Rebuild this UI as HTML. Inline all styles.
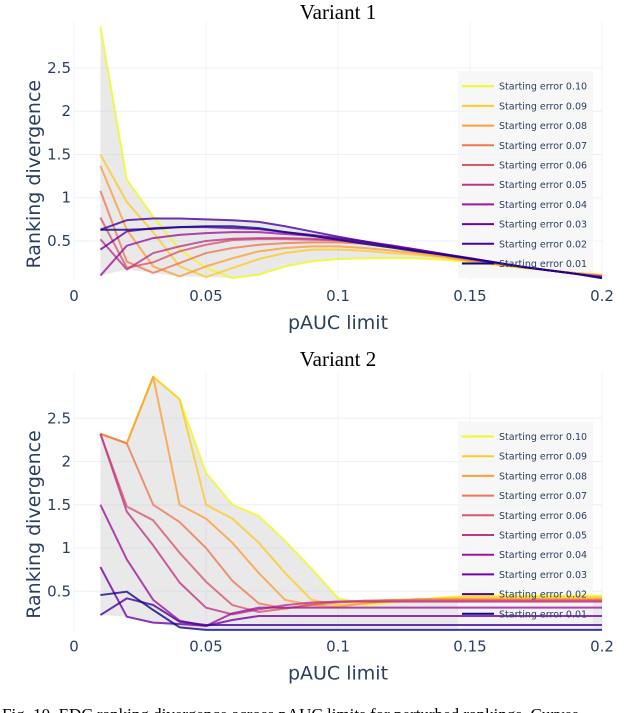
<!DOCTYPE html>
<html><head><meta charset="utf-8"><style>
body{margin:0;background:#fff;width:640px;height:713px;overflow:hidden;position:relative}
svg{position:absolute;left:0;top:0}
</style></head><body>
<svg id="chart" width="640" height="713"></svg>
<script>
const xs=[0.01,0.02,0.03,0.04,0.05,0.06,0.07,0.08,0.09,0.10,0.11,0.12,0.13,0.14,0.15,0.16,0.17,0.18,0.19,0.20];
const seriesLabels=["Starting error 0.10","Starting error 0.09","Starting error 0.08","Starting error 0.07","Starting error 0.06","Starting error 0.05","Starting error 0.04","Starting error 0.03","Starting error 0.02","Starting error 0.01"];
const xTicks=[0,0.05,0.1,0.15,0.2];
const xTickLabels=["0","0.05","0.1","0.15","0.2"];
const yTicks=[0.5,1,1.5,2,2.5];
const yTickLabels=["0.5","1","1.5","2","2.5"];
const v1_010=[2.98,1.21,0.78,0.4,0.19,0.071,0.11,0.206,0.264,0.29,0.299,0.303,0.299,0.283,0.253,0.22,0.19,0.16,0.13,0.11];
const v1_009=[1.5,0.95,0.6,0.206,0.083,0.187,0.291,0.36,0.4,0.4,0.387,0.36,0.341,0.31,0.264,0.23,0.19,0.16,0.13,0.10];
const v1_008=[1.37,0.63,0.206,0.09,0.206,0.299,0.38,0.418,0.437,0.437,0.418,0.39,0.36,0.32,0.27,0.23,0.19,0.16,0.13,0.10];
const v1_007=[1.08,0.26,0.13,0.245,0.36,0.418,0.456,0.475,0.483,0.483,0.468,0.425,0.379,0.333,0.283,0.24,0.2,0.16,0.12,0.09];
const v1_006=[0.77,0.19,0.253,0.38,0.456,0.51,0.521,0.521,0.514,0.506,0.475,0.437,0.39,0.341,0.291,0.24,0.2,0.16,0.12,0.09];
const v1_005=[0.52,0.17,0.36,0.437,0.5,0.525,0.533,0.533,0.525,0.51,0.48,0.44,0.39,0.345,0.29,0.24,0.2,0.16,0.12,0.09];
const v1_004=[0.1,0.445,0.533,0.57,0.59,0.602,0.602,0.58,0.56,0.525,0.487,0.445,0.4,0.349,0.299,0.25,0.2,0.16,0.12,0.08];
const v1_003=[0.4,0.61,0.648,0.66,0.66,0.648,0.637,0.602,0.57,0.533,0.495,0.45,0.4,0.35,0.3,0.25,0.2,0.16,0.12,0.08];
const v1_002=[0.63,0.74,0.76,0.76,0.75,0.74,0.72,0.67,0.61,0.55,0.495,0.437,0.39,0.341,0.3,0.25,0.2,0.16,0.12,0.07];
const v1_001=[0.63,0.63,0.64,0.66,0.67,0.67,0.648,0.602,0.56,0.514,0.468,0.425,0.379,0.341,0.295,0.25,0.2,0.16,0.12,0.07];
const v2_010=[2.32,2.21,2.98,2.72,1.87,1.5,1.37,1.08,0.76,0.42,0.34,0.37,0.4,0.43,0.445,0.45,0.45,0.45,0.45,0.45];
const v2_009=[2.32,2.21,2.98,2.72,1.5,1.34,1.06,0.71,0.4,0.34,0.36,0.38,0.4,0.42,0.43,0.43,0.43,0.43,0.43,0.43];
const v2_008=[2.32,2.21,2.98,1.5,1.34,1.06,0.71,0.4,0.34,0.32,0.36,0.39,0.41,0.41,0.41,0.41,0.41,0.41,0.41,0.41];
const v2_007=[2.32,2.21,1.5,1.3,1.0,0.62,0.36,0.3,0.34,0.37,0.39,0.4,0.4,0.4,0.4,0.4,0.4,0.4,0.4,0.4];
const v2_006=[2.32,1.48,1.32,0.945,0.61,0.34,0.26,0.3,0.35,0.38,0.39,0.39,0.39,0.39,0.39,0.39,0.39,0.39,0.39,0.39];
const v2_005=[2.32,1.42,1.03,0.6,0.31,0.233,0.29,0.34,0.37,0.38,0.38,0.38,0.38,0.38,0.38,0.38,0.38,0.38,0.38,0.38];
const v2_004=[1.5,0.868,0.4,0.16,0.1,0.245,0.31,0.31,0.31,0.31,0.31,0.31,0.31,0.31,0.31,0.31,0.31,0.31,0.31,0.31];
const v2_003=[0.78,0.206,0.137,0.122,0.1,0.168,0.214,0.214,0.214,0.214,0.214,0.214,0.214,0.214,0.214,0.214,0.214,0.214,0.214,0.214];
const v2_002=[0.225,0.418,0.341,0.148,0.11,0.11,0.11,0.11,0.11,0.11,0.11,0.11,0.11,0.11,0.11,0.11,0.11,0.11,0.11,0.11];
const v2_001=[0.456,0.495,0.283,0.083,0.053,0.053,0.053,0.053,0.053,0.053,0.053,0.053,0.053,0.053,0.053,0.053,0.053,0.053,0.053,0.053];

const colors=["#f0f921","#fdca26","#fb9f3a","#ed7953","#d8576b","#bd3786","#9c179e","#7201a8","#46039f","#0d0887"];
const NS="http://www.w3.org/2000/svg";
const svg=document.getElementById('chart');
function mk(t,a,p){const e=document.createElementNS(NS,t);for(const k in a)e.setAttribute(k,a[k]);(p||svg).appendChild(e);return e;}
const X=v=>74+v*2640;

function panel(name,title,titleY,y0,series){
  const Y=v=>y0-v*86.5;
  const g=mk('g',{});
  
  
  const t=mk('text',{x:338,y:titleY,'text-anchor':'middle','font-family':'Liberation Serif, serif','font-size':21,fill:'#000'},g);
  t.textContent=title;
  
  
  xTicks.forEach((v,i)=>{
    const l=mk('line',{x1:X(v),x2:X(v),y1:y0-262,y2:y0-4,stroke:'#ebf0f8','stroke-width':1},g);
    
    
    const tx=mk('text',{x:X(v),y:y0+17,'text-anchor':'middle','font-family':'DejaVu Sans, sans-serif','font-size':15,fill:'#2a3f5f'},g);
    tx.textContent=xTickLabels[i];
    
    
  });
  yTicks.forEach((v,i)=>{
    const l=mk('line',{x1:74,x2:602,y1:Y(v),y2:Y(v),stroke:'#ebf0f8','stroke-width':1},g);
    
    
    const tx=mk('text',{x:71,y:Y(v)+5,'text-anchor':'end','font-family':'DejaVu Sans, sans-serif','font-size':15,fill:'#2a3f5f'},g);
    tx.textContent=yTickLabels[i];
    
    
  });
  const yt=mk('text',{x:0,y:0,'text-anchor':'middle','font-family':'DejaVu Sans, sans-serif','font-size':19,fill:'#2a3f5f',transform:`translate(40,${y0-110}) rotate(-90)`},g);
  yt.textContent='Ranking divergence';
  
  
  const xt=mk('text',{x:338,y:y0+45,'text-anchor':'middle','font-family':'DejaVu Sans, sans-serif','font-size':19,fill:'#2a3f5f'},g);
  xt.textContent='pAUC limit';
  
  
  const hi=xs.map((x,i)=>Math.max(...series.map(s=>s[i])));
  const lo=xs.map((x,i)=>Math.min(...series.map(s=>s[i])));
  let d=xs.map((x,i)=>(i?'L':'M')+X(x)+','+Y(hi[i])).join('');
  for(let i=xs.length-1;i>=0;i--)d+='L'+X(xs[i])+','+Y(lo[i]);
  const env=mk('path',{d:d+'Z',fill:'rgba(200,200,200,0.4)',stroke:'none'},g);
  
  
  const lb=mk('rect',{x:458,y:y0-213,width:135,height:207,fill:'rgba(245,245,245,0.8)'},g);
  
  
  series.forEach((s,k)=>{
    const p=mk('polyline',{points:xs.map((x,i)=>X(x)+','+Y(s[i])).join(' '),fill:'none',stroke:colors[k],'stroke-width':2,'stroke-opacity':0.8,'stroke-linejoin':'round'},g);
    
    
  });
  seriesLabels.forEach((lab,k)=>{
    const ly=y0-198+k*19.7;
    const l=mk('line',{x1:462,x2:494,y1:ly,y2:ly,stroke:colors[k],'stroke-width':2},g);
    
    
    const tx=mk('text',{x:499,y:ly+3.5,'font-family':'DejaVu Sans, sans-serif','font-size':9.5,fill:'#2a3f5f'},g);
    tx.textContent=lab;
    
    
  });
}
panel('variant-1-panel','Variant 1',19,284.2,[v1_010,v1_009,v1_008,v1_007,v1_006,v1_005,v1_004,v1_003,v1_002,v1_001]);
panel('variant-2-panel','Variant 2',366,634.5,[v2_010,v2_009,v2_008,v2_007,v2_006,v2_005,v2_004,v2_003,v2_002,v2_001]);
const cap=mk('text',{x:2,y:720,'font-family':'Liberation Serif, serif','font-size':17,fill:'#000'});
cap.textContent='Fig. 10.     EDC ranking divergence across pAUC limits for perturbed rankings. Curves';


</script>
</body></html>
